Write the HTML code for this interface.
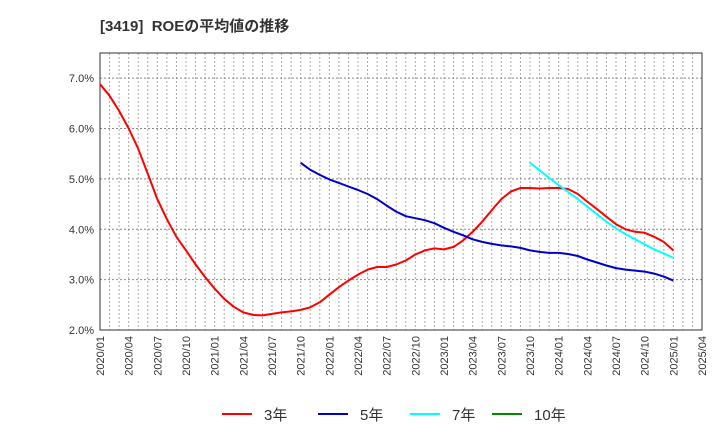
<!DOCTYPE html>
<html><head><meta charset="utf-8"><style>
body{margin:0;background:#fff;}
svg{display:block;font-family:"Liberation Sans","Noto Sans CJK JP",sans-serif;}
</style></head><body>
<svg id="chart" width="720" height="440">
<text x="100" y="31" font-size="15" font-weight="bold" fill="#333" xml:space="preserve" style="white-space:pre">[3419]  ROEの平均値の推移</text>
<g id="grid"></g><g id="axes"></g><g id="series"></g>
<g id="legend">
<line x1="222" y1="414" x2="252" y2="414" stroke="#f00" stroke-width="2"/><text x="264" y="420" font-size="15" fill="#333">3年</text>
<line x1="318" y1="414" x2="348" y2="414" stroke="#00c" stroke-width="2"/><text x="360" y="420" font-size="15" fill="#333">5年</text>
<line x1="410" y1="414" x2="440" y2="414" stroke="#0ff" stroke-width="2"/><text x="452" y="420" font-size="15" fill="#333">7年</text>
<line x1="492" y1="414" x2="522" y2="414" stroke="#080" stroke-width="2"/><text x="534" y="420" font-size="15" fill="#333">10年</text>
</g>
</svg>
<script>
const yTicks=[2,3,4,5,6,7];
const xTickLabels=["2020/01","2020/04","2020/07","2020/10","2021/01","2021/04","2021/07","2021/10","2022/01","2022/04","2022/07","2022/10","2023/01","2023/04","2023/07","2023/10","2024/01","2024/04","2024/07","2024/10","2025/01","2025/04"];
const roe3=[6.88,6.65,6.35,6.0,5.6,5.1,4.6,4.2,3.85,3.58,3.3,3.05,2.82,2.62,2.46,2.35,2.3,2.29,2.32,2.35,2.37,2.4,2.45,2.55,2.7,2.85,2.98,3.1,3.2,3.25,3.25,3.3,3.38,3.5,3.58,3.62,3.6,3.65,3.78,3.95,4.15,4.38,4.6,4.75,4.82,4.82,4.81,4.82,4.82,4.8,4.7,4.55,4.4,4.25,4.1,4.0,3.95,3.93,3.85,3.75,3.58];
const roe3Start=0;
const roe5=[5.32,5.18,5.08,4.99,4.92,4.85,4.78,4.7,4.6,4.47,4.35,4.26,4.22,4.18,4.12,4.03,3.95,3.88,3.8,3.75,3.71,3.68,3.66,3.63,3.58,3.55,3.53,3.53,3.51,3.47,3.4,3.34,3.28,3.23,3.2,3.18,3.16,3.12,3.06,2.98];
const roe5Start=21;
const roe7=[5.32,5.17,5.02,4.88,4.74,4.6,4.45,4.3,4.15,4.02,3.9,3.8,3.7,3.6,3.52,3.43];
const roe7Start=45;
const roe10=[];
const roe10Start=0;

const L=100,R=702,T=53,B=330,yMin=2,yMax=7.5,nMonths=63;
const X=m=>L+(R-L)*m/nMonths;
const Y=v=>B-(B-T)*(v-yMin)/(yMax-yMin);
const NS="http://www.w3.org/2000/svg";
const grid=document.getElementById('grid'),axes=document.getElementById('axes'),ser=document.getElementById('series');
function mk(tag,attrs,parent){const e=document.createElementNS(NS,tag);for(const k in attrs)e.setAttribute(k,attrs[k]);parent.appendChild(e);return e;}
for(let m=1;m<nMonths;m++){const g=mk('line',{x1:X(m),x2:X(m),y1:T,y2:B,stroke:'#aaa','stroke-dasharray':'2,2','stroke-width':1},grid);

}
yTicks.forEach(v=>{const g=mk('line',{x1:L,x2:R,y1:Y(v),y2:Y(v),stroke:'#888','stroke-dasharray':'2,2','stroke-width':1},grid);


const t=mk('text',{x:L-6,y:Y(v)+4,'text-anchor':'end','font-size':11,fill:'#333'},axes);
t.textContent=v.toFixed(1)+'%';

});
const frame=mk('rect',{x:L,y:T,width:R-L,height:B-T,fill:'none',stroke:'#333','stroke-width':1},axes);


xTickLabels.forEach((s,i)=>{const x=X(i*3)+4;const t=mk('text',{x:x,y:B+6,'text-anchor':'end','font-size':11,fill:'#333',transform:`rotate(-90 ${x} ${B+6})`},axes);
t.textContent=s;

});
function line(vals,start,color,name){if(!vals.length)return;const d=vals.map((v,i)=>(i?'L':'M')+X(start+i).toFixed(1)+','+Y(v).toFixed(1)).join(' ');
const p=mk('path',{d:d,fill:'none',stroke:color,'stroke-width':2,'stroke-linejoin':'round'},ser);

}
line(roe3,roe3Start,'#f00','series-3y');
line(roe5,roe5Start,'#00c','series-5y');
line(roe7,roe7Start,'#0ff','series-7y');
line(roe10,roe10Start,'#080','series-10y');
</script>
</body></html>
